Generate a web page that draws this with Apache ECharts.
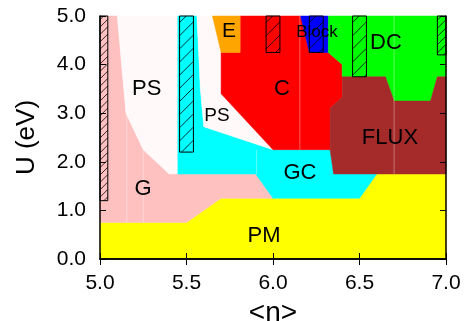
<!DOCTYPE html>
<html>
<head>
<meta charset="utf-8">
<script src="https://cdn.jsdelivr.net/npm/echarts@6/dist/echarts.min.js"></script>
<style>html,body{margin:0;padding:0;background:#fff}#c{width:467px;height:321px}</style>
</head>
<body>
<div id="c"></div>
<script>
// ---- data (n, U) ----
const xTicks = [5.0, 5.5, 6.0, 6.5, 7.0];
const yTicks = [0.0, 1.0, 2.0, 3.0, 4.0, 5.0];

const regionPM   = [[5.0,0],[7.0,0],[7.0,1.75],[6.6,1.75],[6.5,1.25],[5.7,1.25],[5.5,0.75],[5.0,0.75]];
const regionG    = [[5.0,0.75],[5.5,0.75],[5.7,1.25],[6.0,1.25],[5.9,1.75],[5.4,1.75],[5.25,2.25],[5.15,3.0],[5.1,5.0],[5.0,5.0]];
const regionPS1  = [[5.1,5.0],[5.45,5.0],[5.45,1.75],[5.4,1.75],[5.25,2.25],[5.15,3.0]];
const regionGC   = [[5.45,1.75],[5.9,1.75],[6.0,1.25],[6.5,1.25],[6.6,1.75],[6.35,1.75],[6.33,2.25],[6.0,2.25],[5.6,2.72],[5.58,3.5],[5.56,5.0],[5.45,5.0]];
const regionPS2  = [[5.56,5.0],[5.65,5.0],[5.7,4.25],[5.7,3.4],[6.0,2.25],[5.6,2.72],[5.58,3.5]];
const regionC    = [[5.7,4.25],[5.81,4.25],[5.81,5.0],[6.16,5.0],[6.21,4.25],[6.32,4.25],[6.4,4.0],[6.4,3.33],[6.33,3.1],[6.33,2.25],[6.0,2.25],[5.7,3.4]];
const regionE    = [[5.65,5.0],[5.81,5.0],[5.81,4.25],[5.7,4.25]];
const regionBlock= [[6.16,5.0],[6.32,5.0],[6.32,4.25],[6.21,4.25]];
const regionDC   = [[6.32,5.0],[7.0,5.0],[7.0,3.75],[6.95,3.75],[6.91,3.25],[6.7,3.25],[6.65,3.75],[6.4,3.75],[6.4,4.0],[6.32,4.25]];
const regionFLUX = [[6.4,3.75],[6.65,3.75],[6.7,3.25],[6.91,3.25],[6.95,3.75],[7.0,3.75],[7.0,1.75],[6.35,1.75],[6.33,2.25],[6.33,3.1],[6.4,3.33]];

// hatched bars: [nLeft, nRight, Ubottom, Utop]
const barN0 = [5.0, 5.46, 5.96, 6.21, 6.46, 6.95];
const barN1 = [5.045, 5.54, 6.04, 6.29, 6.54, 7.0];
const barU0 = [1.2, 2.2, 4.25, 4.25, 3.75, 4.2];
const barU1 = [5.0, 5.0, 5.0, 5.0, 5.0, 5.0];

// faint seams between grid cells: n, Ubottom, Utop
const seamN  = [5.155, 5.25, 5.905, 6.155, 6.7];
const seamU0 = [0.75, 0.75, 1.75, 2.25, 1.75];
const seamU1 = [3.0, 2.25, 2.25, 5.0, 5.0];

// region labels
const labelNames = ['PS', 'PS', 'E', 'C', 'Block', 'DC', 'FLUX', 'GC', 'G', 'PM'];
const labelN     = [5.27, 5.676, 5.746, 6.052, 6.254, 6.653, 6.676, 6.156, 5.249, 5.948];
const labelU     = [3.50, 2.94, 4.69, 3.50, 4.67, 4.44, 2.49, 1.77, 1.44, 0.47];

// ---- styling ----
const FONT = "'Liberation Sans', Arial, Helvetica, sans-serif";
const regions = [
  {pts: regionPM, color: '#ffff00'},
  {pts: regionG, color: '#ffc0c0'},
  {pts: regionPS1, color: '#fff9f9'},
  {pts: regionGC, color: '#00ffff'},
  {pts: regionPS2, color: '#fff9f9'},
  {pts: regionC, color: '#ff0000'},
  {pts: regionE, color: '#ffa500'},
  {pts: regionBlock, color: '#0000ff'},
  {pts: regionDC, color: '#00ff00'},
  {pts: regionFLUX, color: '#a52a2a'}
];
const barColors = ['#ffc0c0', '#00ffff', '#ff0000', '#0000ff', '#00ff00', '#00ff00'];
const labelSizes = [22, 19, 21, 22, 17, 22, 22, 22, 22, 22];

const chart = echarts.init(document.getElementById('c'), null, {renderer: 'canvas'});

const axisCommon = {
  axisLine: {show: true, lineStyle: {color: '#000', width: 1.5}},
  axisTick: {show: true, inside: true, length: 6, lineStyle: {color: '#000', width: 1}},
  splitLine: {show: false},
  z: 10
};

chart.setOption({
  animation: false,
  backgroundColor: '#fff',
  grid: {left: 100, right: 21, top: 16, bottom: 62, show: false, containLabel: false, outerBoundsMode: 'none'},
  xAxis: [
    Object.assign({}, axisCommon, {
      type: 'value', min: 5.0, max: 7.0, interval: 0.5, position: 'bottom',
      name: '<n>', nameLocation: 'middle', nameGap: 31,
      nameTextStyle: {fontFamily: FONT, fontSize: 28, color: '#000'},
      axisLabel: {fontFamily: FONT, fontSize: 21, color: '#000', margin: 14,
        formatter: v => v.toFixed(1)}
    }),
    Object.assign({}, axisCommon, {
      type: 'value', min: 5.0, max: 7.0, interval: 0.5, position: 'top',
      axisLabel: {show: false}
    })
  ],
  yAxis: [
    Object.assign({}, axisCommon, {
      type: 'value', min: 0, max: 5.0, interval: 1.0, position: 'left',
      name: 'U (eV)', nameLocation: 'middle', nameGap: 60, nameRotate: 90,
      nameTextStyle: {fontFamily: FONT, fontSize: 26, color: '#000'},
      axisLabel: {fontFamily: FONT, fontSize: 21, color: '#000', margin: 14,
        formatter: v => v.toFixed(1)}
    }),
    Object.assign({}, axisCommon, {
      type: 'value', min: 0, max: 5.0, interval: 1.0, position: 'right',
      axisLabel: {show: false}
    })
  ],
  series: [
    {
      type: 'custom',
      coordinateSystem: 'cartesian2d',
      xAxisIndex: 0, yAxisIndex: 0,
      z: 1,
      silent: true,
      data: regions.map(r => r.pts[0]),
      renderItem: function (params, api) {
        const r = regions[params.dataIndex];
        return {
          type: 'polygon',
          shape: {points: r.pts.map(p => api.coord(p))},
          style: {fill: r.color, stroke: r.color, lineWidth: 0.5}
        };
      }
    },
    {
      type: 'custom',
      coordinateSystem: 'cartesian2d',
      z: 1.5,
      silent: true,
      data: seamN.map((n, i) => [n, seamU0[i]]),
      renderItem: function (params, api) {
        const i = params.dataIndex;
        const a = api.coord([seamN[i], seamU0[i]]);
        const b = api.coord([seamN[i], seamU1[i]]);
        return {
          type: 'line',
          shape: {x1: a[0], y1: a[1], x2: b[0], y2: b[1]},
          style: {stroke: 'rgba(255,255,255,0.35)', lineWidth: 1}
        };
      }
    },
    {
      type: 'custom',
      coordinateSystem: 'cartesian2d',
      z: 2,
      silent: true,
      data: barN0.map((n, i) => [n, barU0[i], barN1[i], barU1[i]]),
      renderItem: function (params, api) {
        const i = params.dataIndex;
        const p0 = api.coord([barN0[i], barU1[i]]);
        const p1 = api.coord([barN1[i], barU0[i]]);
        const x0 = p0[0], y0 = p0[1], x1 = p1[0], y1 = p1[1];
        const w = x1 - x0;
        const s = Math.max(7, w * 0.95);
        const children = [{
          type: 'rect',
          shape: {x: x0, y: y0, width: w, height: y1 - y0},
          style: {fill: barColors[i], stroke: '#000', lineWidth: 1}
        }];
        for (let c = x0 + y0 + s * 0.5; c < x1 + y1; c += s) {
          const xa = Math.max(x0, c - y1);
          const xb = Math.min(x1, c - y0);
          if (xb <= xa) continue;
          children.push({
            type: 'line',
            shape: {x1: xa, y1: c - xa, x2: xb, y2: c - xb},
            style: {stroke: '#000', lineWidth: 0.8}
          });
        }
        return {type: 'group', children: children};
      }
    },
    {
      type: 'custom',
      coordinateSystem: 'cartesian2d',
      z: 3,
      silent: true,
      data: labelN.map((n, i) => [n, labelU[i]]),
      renderItem: function (params, api) {
        const i = params.dataIndex;
        const p = api.coord([labelN[i], labelU[i]]);
        return {
          type: 'text',
          x: p[0], y: p[1],
          style: {
            text: labelNames[i],
            fill: '#000',
            font: labelSizes[i] + 'px ' + FONT,
            align: 'center',
            verticalAlign: 'middle'
          }
        };
      }
    }
  ]
});
</script>
</body>
</html>
